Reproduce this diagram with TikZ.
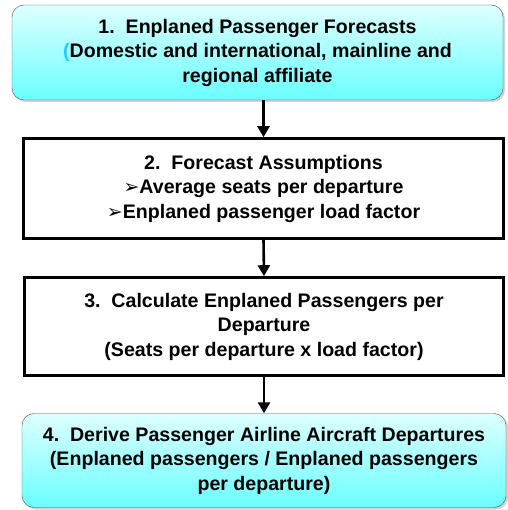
\documentclass[tikz,border=0pt]{standalone}
\usepackage{fontspec}
\setmainfont{Liberation Sans}
\newfontfamily\simbolos{DejaVu Sans}
\usepackage{xcolor}
\usetikzlibrary{arrows.meta,shadows,positioning}
\definecolor{cianclaro}{RGB}{222,255,255}
\definecolor{cianfuerte}{RGB}{105,255,255}
\definecolor{cianparen}{RGB}{40,200,255}
\tikzset{
  paso/.style={rectangle,inner sep=0pt,align=center,font=\bfseries\fontsize{19.6}{24.5}\selectfont},
  pasocian/.style={paso,rounded corners=12pt,draw=black!70,thin,top color=cianclaro,bottom color=cianfuerte,
    drop shadow={opacity=0.35,shadow xshift=2pt,shadow yshift=-2pt}},
  pasorecto/.style={paso,draw=black,line width=2.6pt,fill=white},
  flecha/.style={-{Triangle[length=11pt,width=12pt]},line width=2.6pt}
}
\newcommand{\vineta}{{\simbolos\fontsize{19}{19}\selectfont ➢}}

\begin{document}
\begin{tikzpicture}[x=1pt,y=-1pt]
\useasboundingbox (0,0) rectangle (507,510);
\node[pasocian,minimum width=491pt,minimum height=95pt] (p1) at (257.5,52.5)
 {1.\ \ Enplaned Passenger Forecasts\\{\color{cianparen}(}Domestic and international, mainline and\\regional affiliate};
\node[pasorecto,minimum width=480pt,minimum height=100pt] (p2) at (263.5,188.5)
 {2.\ \ Forecast Assumptions\\\vineta Average seats per departure\\\vineta Enplaned passenger load factor};
\node[pasorecto,minimum width=479pt,minimum height=98pt] (p3) at (264,326.5)
 {3.\ \ Calculate Enplaned Passengers per\\Departure\\(Seats per departure x load factor)};
\node[pasocian,minimum width=484pt,minimum height=94pt] (p4) at (264,460.5)
 {4.\ \ Derive Passenger Airline Aircraft Departures\\(Enplaned passengers / Enplaned passengers\\per departure)};
\draw[flecha] (p2.north |- p1.south) -- (p2.north);
\draw[flecha] (p2.south) -- (p3.north);
\draw[flecha] (p3.south) -- (p4.north);
\end{tikzpicture}
\end{document}
